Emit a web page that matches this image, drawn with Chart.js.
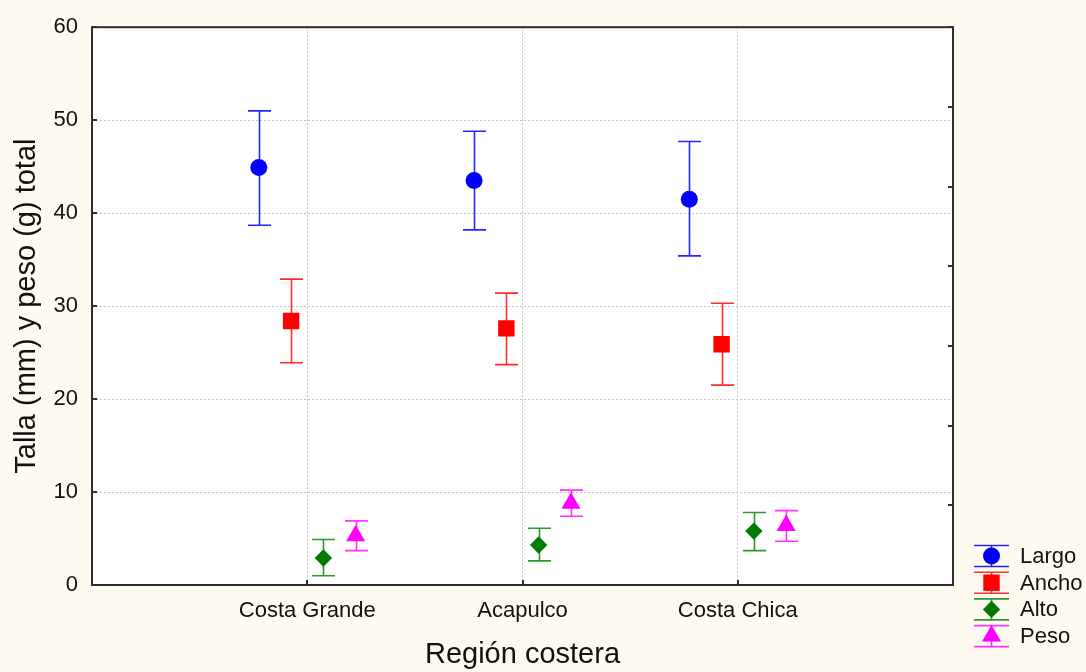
<!DOCTYPE html>
<html>
<head>
<meta charset="utf-8">
<script src="https://cdn.jsdelivr.net/npm/chart.js@4/dist/chart.umd.min.js"></script>
<style>
  html, body { margin: 0; padding: 0; background: #fffaef; }
  #wrap { width: 1086px; height: 672px; }
  canvas { display: block; }
</style>
</head>
<body>
<div id="wrap"><canvas id="c" width="1086" height="672"></canvas></div>
<script>
// Regions and measured variables
const categories = ['Costa Grande', 'Acapulco', 'Costa Chica'];
const seriesNames = ['Largo', 'Ancho', 'Alto', 'Peso'];

// Means with lower / upper limits of the error bars, one value per region
const largoMean = [44.9, 43.5, 41.5];
const largoLow  = [38.7, 38.2, 35.4];
const largoHigh = [51.0, 48.8, 47.7];

const anchoMean = [28.4, 27.6, 25.9];
const anchoLow  = [23.9, 23.7, 21.5];
const anchoHigh = [32.9, 31.4, 30.3];

const altoMean = [2.9, 4.3, 5.8];
const altoLow  = [1.0, 2.6, 3.7];
const altoHigh = [4.9, 6.1, 7.8];

const pesoMean = [5.3, 8.8, 6.4];
const pesoLow  = [3.7, 7.4, 4.7];
const pesoHigh = [6.9, 10.2, 8.0];

// Axis ticks
const yTicks = [0, 10, 20, 30, 40, 50, 60];

const FONT = "'Liberation Sans', Arial, sans-serif";
const GRID = '#c2c2c2';
const FRAME = '#2e2e2e';
const TEXT = '#111111';

const seriesValues = [
  { mean: largoMean, low: largoLow, high: largoHigh },
  { mean: anchoMean, low: anchoLow, high: anchoHigh },
  { mean: altoMean,  low: altoLow,  high: altoHigh  },
  { mean: pesoMean,  low: pesoLow,  high: pesoHigh  }
];

// Marker look and horizontal shift of each series inside a region
const seriesStyle = [
  { shift: -0.225, pointStyle: 'circle',   radius: 8.5,  fill: '#0000ff', bar: '#2424ff' },
  { shift: -0.075, pointStyle: 'rect',     radius: 11.6, fill: '#ff0000', bar: '#ff2e2e' },
  { shift:  0.075, pointStyle: 'rectRot',  radius: 8.7,  fill: '#007a00', bar: '#2f962f' },
  { shift:  0.225, pointStyle: 'triangle', radius: 11,   fill: '#ff00ff', bar: '#ff33ff' }
];

const datasets = seriesNames.map((name, i) => ({
  label: name,
  data: categories.map((_, j) => ({ x: j + 1 + seriesStyle[i].shift, y: seriesValues[i].mean[j] })),
  low: seriesValues[i].low,
  high: seriesValues[i].high,
  barColor: seriesStyle[i].bar,
  pointStyle: seriesStyle[i].pointStyle,
  pointRadius: seriesStyle[i].radius,
  pointHoverRadius: seriesStyle[i].radius,
  backgroundColor: seriesStyle[i].fill,
  borderColor: seriesStyle[i].fill,
  borderWidth: 0,
  showLine: false
}));

const CAP = 11.5;

// Error bars drawn underneath the markers
const errorBars = {
  id: 'errorBars',
  beforeDatasetsDraw(chart) {
    const ctx = chart.ctx;
    const y = chart.scales.y;
    ctx.save();
    chart.data.datasets.forEach((ds, i) => {
      const meta = chart.getDatasetMeta(i);
      ctx.strokeStyle = ds.barColor;
      ctx.lineWidth = 1.6;
      meta.data.forEach((pt, j) => {
        const x = Math.round(pt.x) + 0.5;
        const yl = y.getPixelForValue(ds.low[j]);
        const yh = y.getPixelForValue(ds.high[j]);
        ctx.beginPath();
        ctx.moveTo(x, yl); ctx.lineTo(x, yh);
        ctx.moveTo(x - CAP, yl); ctx.lineTo(x + CAP, yl);
        ctx.moveTo(x - CAP, yh); ctx.lineTo(x + CAP, yh);
        ctx.stroke();
      });
    });
    ctx.restore();
  }
};

// White plot area, frame, inward tick marks and the legend at the lower right
const frame = {
  id: 'frame',
  beforeDraw(chart) {
    const { ctx, chartArea: a } = chart;
    ctx.save();
    ctx.fillStyle = '#ffffff';
    ctx.fillRect(a.left, a.top, a.right - a.left, a.bottom - a.top);
    ctx.restore();
  },
  afterDraw(chart) {
    const { ctx, chartArea: a, scales } = chart;
    ctx.save();
    ctx.strokeStyle = FRAME;
    ctx.lineWidth = 2;
    ctx.strokeRect(a.left, a.top, a.right - a.left, a.bottom - a.top);

    const T = 5;
    ctx.lineWidth = 2;
    ctx.beginPath();
    scales.y.ticks.forEach(t => {
      const py = Math.round(scales.y.getPixelForValue(t.value));
      ctx.moveTo(a.left, py); ctx.lineTo(a.left + T, py);
    });
    scales.y2.ticks.forEach(t => {
      const py = Math.round(scales.y2.getPixelForValue(t.value));
      ctx.moveTo(a.right, py); ctx.lineTo(a.right - T, py);
    });
    scales.x.ticks.forEach(t => {
      if (t.value < 1 || t.value > categories.length) return;
      const px = Math.round(scales.x.getPixelForValue(t.value));
      ctx.moveTo(px, a.bottom); ctx.lineTo(px, a.bottom - T);
    });
    ctx.stroke();

    // legend
    const lx = a.right + 38.5;
    let ly = a.bottom - 29;
    const step = 26.7;
    ctx.font = '22px ' + FONT;
    ctx.textBaseline = 'middle';
    ctx.textAlign = 'left';
    chart.data.datasets.forEach(ds => {
      ctx.strokeStyle = ds.barColor;
      ctx.lineWidth = 1.6;
      ctx.beginPath();
      ctx.moveTo(lx - 17.5, ly - 10.5); ctx.lineTo(lx + 17.5, ly - 10.5);
      ctx.moveTo(lx - 17.5, ly + 10.5); ctx.lineTo(lx + 17.5, ly + 10.5);
      ctx.moveTo(lx, ly - 10.5); ctx.lineTo(lx, ly + 10.5);
      ctx.stroke();
      ctx.fillStyle = ds.backgroundColor;
      Chart.helpers.drawPoint(ctx, { pointStyle: ds.pointStyle, radius: ds.pointRadius, borderWidth: 0, rotation: 0 }, lx, ly);
      ctx.fillStyle = TEXT;
      ctx.fillText(ds.label, lx + 28.5, ly + 1);
      ly += step;
    });
    ctx.restore();
  }
};

new Chart(document.getElementById('c'), {
  type: 'scatter',
  data: { datasets },
  options: {
    responsive: false,
    animation: false,
    devicePixelRatio: 1,
    layout: { padding: { left: 0, top: 24, right: 133, bottom: 0 } },
    plugins: { legend: { display: false }, tooltip: { enabled: false } },
    scales: {
      x: {
        type: 'linear',
        min: 0,
        max: categories.length + 1,
        ticks: {
          stepSize: 1,
          autoSkip: false,
          maxRotation: 0,
          padding: 13,
          color: TEXT,
          font: { family: FONT, size: 22 },
          callback: v => categories[v - 1] ?? ''
        },
        grid: {
          color: c => (c.tick && (c.tick.value < 1 || c.tick.value > categories.length)) ? 'rgba(0,0,0,0)' : GRID,
          lineWidth: 1,
          drawTicks: false
        },
        border: { display: false, dash: [2, 2] },
        title: {
          display: true,
          text: 'Región costera',
          color: TEXT,
          font: { family: FONT, size: 29 },
          padding: { top: 0, bottom: 0 }
        },
        afterFit(s) { s.height = 87; }
      },
      y: {
        type: 'linear',
        position: 'left',
        min: yTicks[0],
        max: yTicks[yTicks.length - 1],
        afterBuildTicks(s) { s.ticks = yTicks.map(v => ({ value: v })); },
        ticks: {
          padding: 14,
          color: TEXT,
          font: { family: FONT, size: 22 }
        },
        grid: {
          color: c => (c.tick && (c.tick.value === yTicks[0] || c.tick.value === yTicks[yTicks.length - 1])) ? 'rgba(0,0,0,0)' : GRID,
          lineWidth: 1,
          drawTicks: false
        },
        border: { display: false, dash: [2, 2] },
        title: {
          display: true,
          text: 'Talla (mm) y peso (g) total',
          color: TEXT,
          font: { family: FONT, size: 29 },
          padding: { top: 9.5, bottom: 0 }
        },
        afterFit(s) { s.width = 92; }
      },
      y2: {
        type: 'linear',
        position: 'right',
        min: 0,
        max: 7,
        ticks: { stepSize: 1, display: false },
        grid: { drawOnChartArea: false, drawTicks: false },
        border: { display: false },
        afterFit(s) { s.width = 0; }
      }
    }
  },
  plugins: [errorBars, frame]
});
</script>
</body>
</html>
